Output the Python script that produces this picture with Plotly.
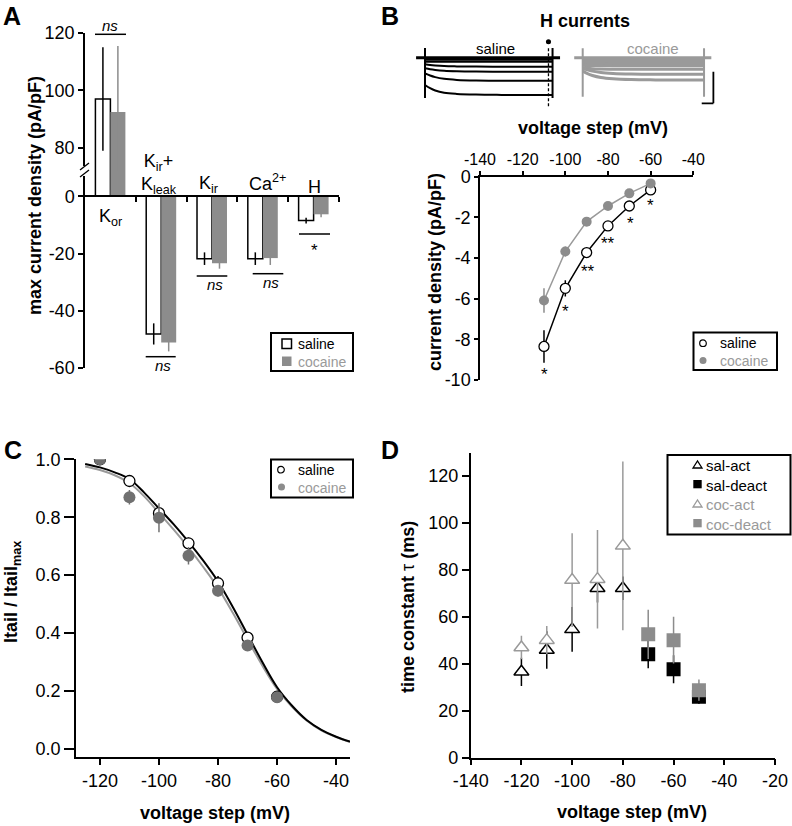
import plotly.graph_objects as go

W, H = 792, 826
FONT = "Liberation Sans, Arial, Helvetica, sans-serif"
BLACK = "#000000"
GREY = "#8c8c8c"
GREY_LINE = "#9a9a9a"
GREY_TXT = "#9a9a9a"
GREY_DARK = "#707070"

# ---------------- Panel A : max current density ----------------
a_categories = ["Kor", "Kir+Kleak", "Kir", "Ca2+", "H"]
a_x = [0, 1, 2, 3, 4]
a_saline = [97.0, -48.1, -21.8, -21.8, -8.5]
a_saline_err = [18.0, 3.7, 2.2, 2.2, 1.0]
a_cocaine = [92.5, -51.1, -23.4, -21.6, -6.3]
a_cocaine_err = [23.0, 3.1, 1.9, 2.4, 1.0]
a_sig = ["ns", "ns", "ns", "ns", "*"]
a_lower_ticks = [-60, -40, -20, 0]
a_upper_ticks = [80, 100, 120]

# ---------------- Panel B : H current sweeps + I-V ----------------
sweep_t = [0, 40, 80, 150, 250, 400, 600, 800, 1000]
hold_t = [-70, 1060]
hold_i = [0, 0]
saline_sweeps = [
    [-20, -20, -20, -20, -20, -20, -20, -20, -20],
    [-40, -40, -40, -40, -40, -40, -40, -40, -40],
    [-66, -73, -78, -84, -87, -89, -90, -90, -90],
    [-106, -116, -123, -131, -136, -139, -140, -140, -140],
    [-156, -178, -194, -211, -222, -228, -230, -231, -231],
    [-273, -305, -328, -350, -362, -369, -372, -373, -373],
]
cocaine_sweeps = [
    [-15, -15, -15, -15, -15, -15, -15, -15, -15],
    [-30, -30, -30, -30, -30, -30, -30, -30, -30],
    [-45, -45, -45, -45, -45, -45, -45, -45, -45],
    [-60, -60, -61, -61, -62, -62, -62, -62, -62],
    [-75, -77, -78, -79, -80, -80, -80, -80, -80],
    [-100, -106, -110, -113, -115, -116, -116, -116, -116],
    [-106, -122, -134, -148, -157, -163, -166, -166, -166],
    [-133, -160, -178, -198, -211, -219, -222, -223, -223],
]
saline_transient = [97, -403]
cocaine_transient = [94, -390]

b_voltage = [-110, -100, -90, -80, -70, -60]
b_saline = [-8.35, -5.49, -3.73, -2.42, -1.44, -0.65]
b_saline_err = [0.8, 0.4, 0.15, 0.1, 0.1, 0.1]
b_cocaine = [-6.09, -3.68, -2.21, -1.44, -0.82, -0.33]
b_cocaine_err = [0.6, 0.25, 0.1, 0.1, 0.1, 0.08]
b_stars = ["*", "*", "**", "**", "*", "*"]
b_x_ticks = [-140, -120, -100, -80, -60, -40]
b_y_ticks = [0, -2, -4, -6, -8, -10]

# ---------------- Panel C : activation ----------------
c_voltage = [-120, -110, -100, -90, -80, -70, -60]
c_saline = [1.0, 0.925, 0.814, 0.71, 0.572, 0.384, 0.18]
c_saline_err = [0.0, 0.01, 0.02, 0.02, 0.025, 0.015, 0.01]
c_cocaine = [1.0, 0.869, 0.798, 0.667, 0.546, 0.357, 0.178]
c_cocaine_err = [0.0, 0.025, 0.05, 0.03, 0.02, 0.015, 0.015]
c_fit_v = [-125, -120, -115, -110, -105, -100, -95, -90, -85, -80,
           -75, -70, -65, -60, -55, -50, -45, -40, -35.3]
c_fit_saline = [0.984, 0.972, 0.955, 0.932, 0.885, 0.83, 0.775, 0.715, 0.65, 0.578,
                0.49, 0.395, 0.30, 0.213, 0.15, 0.10, 0.066, 0.042, 0.025]
c_fit_cocaine = [0.975, 0.963, 0.945, 0.918, 0.872, 0.815, 0.757, 0.695, 0.628, 0.556,
                 0.47, 0.378, 0.288, 0.207, 0.146, 0.098, 0.064, 0.041, 0.024]
c_x_ticks = [-120, -100, -80, -60, -40]
c_y_ticks = [0.0, 0.2, 0.4, 0.6, 0.8, 1.0]

# ---------------- Panel D : time constants ----------------
d_act_v = [-120, -110, -100, -90, -80]
d_sal_act = [36.6, 45.9, 54.7, 72.2, 72.2]
d_sal_act_err = [6, 8, 9.5, 6, 5]
d_coc_act = [47.0, 50.1, 75.7, 76.1, 90.3]
d_coc_act_err = [5, 6, 20, 21, 36]
d_deact_v = [-70, -60, -50]
d_sal_deact = [44.1, 37.7, 26.0]
d_sal_deact_err = [6, 6, 3]
d_coc_deact = [52.6, 50.1, 28.8]
d_coc_deact_err = [10.5, 10, 4.5]
d_x_ticks = [-140, -120, -100, -80, -60, -40, -20]
d_y_ticks = [0, 20, 40, 60, 80, 100, 120]


def fx(px):
    return px / W


def fy(py):
    return 1 - py / H


def lab(v):
    return "%g" % v


fig = go.Figure()

# ---- Panel A traces (lower and upper part of the broken axis) ----
for yax in ("y", "y2"):
    fig.add_trace(go.Bar(
        x=a_x, y=a_saline, xaxis="x", yaxis=yax, name="saline",
        marker=dict(color="white", line=dict(color=BLACK, width=1.5)),
        error_y=dict(type="data", array=a_saline_err, color=BLACK, thickness=1.5, width=0),
        showlegend=False))
    fig.add_trace(go.Bar(
        x=a_x, y=a_cocaine, xaxis="x", yaxis=yax, name="cocaine",
        marker=dict(color=GREY, line=dict(width=0)),
        error_y=dict(type="data", array=a_cocaine_err, color=GREY, thickness=1.5, width=0),
        showlegend=False))

# ---- Panel B sweeps ----
fig.add_trace(go.Scatter(x=hold_t, y=hold_i, xaxis="x3", yaxis="y4", mode="lines",
                         line=dict(color=BLACK, width=3), showlegend=False, hoverinfo="skip"))
for sw in saline_sweeps:
    fig.add_trace(go.Scatter(x=sweep_t, y=sw, xaxis="x3", yaxis="y4", mode="lines",
                             line=dict(color=BLACK, width=2, shape="spline"),
                             showlegend=False, hoverinfo="skip"))
for t in (sweep_t[0], sweep_t[-1]):
    fig.add_trace(go.Scatter(x=[t, t], y=saline_transient, xaxis="x3", yaxis="y4", mode="lines",
                             line=dict(color=BLACK, width=2), showlegend=False, hoverinfo="skip"))
fig.add_trace(go.Scatter(x=hold_t, y=hold_i, xaxis="x4", yaxis="y4", mode="lines",
                         line=dict(color=GREY_LINE, width=3), showlegend=False, hoverinfo="skip"))
for sw in cocaine_sweeps:
    fig.add_trace(go.Scatter(x=sweep_t, y=sw, xaxis="x4", yaxis="y4", mode="lines",
                             line=dict(color=GREY_LINE, width=3, shape="spline"),
                             showlegend=False, hoverinfo="skip"))
for t in (sweep_t[0], sweep_t[-1]):
    fig.add_trace(go.Scatter(x=[t, t], y=cocaine_transient, xaxis="x4", yaxis="y4", mode="lines",
                             line=dict(color=GREY_LINE, width=2), showlegend=False, hoverinfo="skip"))

# ---- Panel B I-V ----
fig.add_trace(go.Scatter(x=b_voltage, y=b_saline, xaxis="x2", yaxis="y3", mode="lines",
                         line=dict(color=BLACK, width=1.5), showlegend=False))
fig.add_trace(go.Scatter(x=b_voltage, y=b_cocaine, xaxis="x2", yaxis="y3", mode="lines",
                         line=dict(color=GREY_LINE, width=1.5), showlegend=False))
fig.add_trace(go.Scatter(x=b_voltage, y=b_saline, xaxis="x2", yaxis="y3", mode="markers",
                         name="saline", showlegend=False,
                         marker=dict(symbol="circle", size=10, color="white",
                                     line=dict(color=BLACK, width=1.3)),
                         error_y=dict(type="data", array=b_saline_err, color=BLACK,
                                      thickness=1.5, width=0)))
fig.add_trace(go.Scatter(x=b_voltage, y=b_cocaine, xaxis="x2", yaxis="y3", mode="markers",
                         name="cocaine", showlegend=False,
                         marker=dict(symbol="circle", size=10, color=GREY, line=dict(width=0)),
                         error_y=dict(type="data", array=b_cocaine_err, color=GREY,
                                      thickness=1.5, width=0)))

# ---- Panel C ----
fig.add_trace(go.Scatter(x=c_fit_v, y=c_fit_cocaine, xaxis="x5", yaxis="y5", mode="lines",
                         line=dict(color=GREY_LINE, width=2, shape="spline"), showlegend=False))
fig.add_trace(go.Scatter(x=c_fit_v, y=c_fit_saline, xaxis="x5", yaxis="y5", mode="lines",
                         line=dict(color=BLACK, width=2, shape="spline"), showlegend=False))
fig.add_trace(go.Scatter(x=c_voltage, y=c_saline, xaxis="x5", yaxis="y5", mode="markers",
                         name="saline", showlegend=False,
                         marker=dict(symbol="circle", size=11, color="white",
                                     line=dict(color=BLACK, width=1.3)),
                         error_y=dict(type="data", array=c_saline_err, color=BLACK,
                                      thickness=1.5, width=0)))
fig.add_trace(go.Scatter(x=c_voltage, y=c_cocaine, xaxis="x5", yaxis="y5", mode="markers",
                         name="cocaine", showlegend=False,
                         marker=dict(symbol="circle", size=12, color=GREY_DARK, line=dict(width=0)),
                         error_y=dict(type="data", array=c_cocaine_err, color=GREY_DARK,
                                      thickness=1.5, width=0)))

# ---- Panel D ----
fig.add_trace(go.Scatter(x=d_act_v, y=d_sal_act, xaxis="x6", yaxis="y6", mode="markers",
                         name="sal-act", showlegend=False,
                         marker=dict(symbol="triangle-up", size=13, color="white",
                                     line=dict(color=BLACK, width=1.5)),
                         error_y=dict(type="data", array=d_sal_act_err, color=BLACK,
                                      thickness=1.5, width=0)))
fig.add_trace(go.Scatter(x=d_deact_v, y=d_sal_deact, xaxis="x6", yaxis="y6", mode="markers",
                         name="sal-deact", showlegend=False,
                         marker=dict(symbol="square", size=14, color=BLACK, line=dict(width=0)),
                         error_y=dict(type="data", array=d_sal_deact_err, color=BLACK,
                                      thickness=1.5, width=0)))
fig.add_trace(go.Scatter(x=d_act_v, y=d_coc_act, xaxis="x6", yaxis="y6", mode="markers",
                         name="coc-act", showlegend=False,
                         marker=dict(symbol="triangle-up", size=13, color="white",
                                     line=dict(color=GREY_LINE, width=1.5)),
                         error_y=dict(type="data", array=d_coc_act_err, color=GREY_LINE,
                                      thickness=1.5, width=0)))
fig.add_trace(go.Scatter(x=d_deact_v, y=d_coc_deact, xaxis="x6", yaxis="y6", mode="markers",
                         name="coc-deact", showlegend=False,
                         marker=dict(symbol="square", size=14, color=GREY, line=dict(width=0)),
                         error_y=dict(type="data", array=d_coc_deact_err, color=GREY,
                                      thickness=1.5, width=0)))

# ---------------- axes ----------------
axis_common = dict(showline=True, linecolor=BLACK, linewidth=1.5, ticks="outside",
                   tickcolor=BLACK, tickwidth=1.5, showgrid=False, zeroline=False,
                   tickfont=dict(family=FONT, size=18, color=BLACK), fixedrange=True)

layout_axes = dict(
    # Panel A
    xaxis=dict(axis_common, domain=[fx(85), fx(339)], range=[-0.5, 4.5], anchor="free",
               position=fy(196.3), tickvals=[0.5, 1.5, 2.5, 3.5, 4.5], ticklen=5,
               showticklabels=False),
    yaxis=dict(axis_common, domain=[fy(368), fy(171)], range=[-60, 8.83], anchor="x",
               tickvals=a_lower_ticks, ticktext=[lab(v) for v in a_lower_ticks], ticklen=5),
    yaxis2=dict(axis_common, domain=[fy(171), fy(33)], range=[71.97, 120], anchor="x",
                tickvals=a_upper_ticks, ticktext=[lab(v) for v in a_upper_ticks], ticklen=5),
    # Panel B I-V
    xaxis2=dict(axis_common, domain=[fx(480), fx(693.3)], range=[-140, -40], anchor="y3",
                side="top", tickvals=b_x_ticks, ticktext=[lab(v) for v in b_x_ticks], ticklen=4,
                tickfont=dict(family=FONT, size=16, color=BLACK)),
    yaxis3=dict(axis_common, domain=[fy(380), fy(176.7)], range=[-10, 0], anchor="x2",
                tickvals=b_y_ticks, ticktext=[lab(v) for v in b_y_ticks], ticklen=4),
    # Panel B sweeps (no visible axes)
    xaxis3=dict(domain=[fx(414.8), fx(560.2)], range=[-80, 1060], anchor="y4", visible=False,
                fixedrange=True),
    xaxis4=dict(domain=[fx(573), fx(718.6)], range=[-80, 1120], anchor="y4", visible=False,
                fixedrange=True),
    yaxis4=dict(domain=[fy(115), fy(35)], range=[-573, 227], anchor="x3", visible=False,
                fixedrange=True),
    # Panel C
    xaxis5=dict(axis_common, domain=[fx(76), fx(350)], range=[-128.1, -35.3], anchor="y5",
                tickvals=c_x_ticks, ticktext=[lab(v) for v in c_x_ticks], ticklen=6),
    yaxis5=dict(axis_common, domain=[fy(757.3), fy(459.3)], range=[-0.029, 1.0], anchor="x5",
                tickvals=c_y_ticks, ticktext=["%.1f" % v for v in c_y_ticks], ticklen=10),
    # Panel D
    xaxis6=dict(axis_common, domain=[fx(470.7), fx(775)], range=[-140, -20], anchor="y6",
                tickvals=d_x_ticks, ticktext=[lab(v) for v in d_x_ticks], ticklen=6),
    yaxis6=dict(axis_common, domain=[fy(757.7), fy(452.7)], range=[0, 130], anchor="x6",
                tickvals=d_y_ticks, ticktext=[lab(v) for v in d_y_ticks], ticklen=7),
)

# ---------------- annotations ----------------
annotations = []


def ann(text, px, py, size=18, bold=False, italic=False, color=BLACK, xanchor="center",
        yanchor="middle", angle=0, align="center"):
    if bold:
        text = "<b>%s</b>" % text
    if italic:
        text = "<i>%s</i>" % text
    annotations.append(dict(text=text, x=fx(px), y=fy(py), xref="paper", yref="paper",
                            showarrow=False, xanchor=xanchor, yanchor=yanchor, textangle=angle,
                            align=align, font=dict(family=FONT, size=size, color=color)))


# panel letters
ann("A", 1, 16, size=25, bold=True, xanchor="left")
ann("B", 379, 16, size=25, bold=True, xanchor="left")
ann("C", 2, 450, size=25, bold=True, xanchor="left")
ann("D", 379, 450, size=25, bold=True, xanchor="left")

# Panel A texts
ann("max current density (pA/pF)", 35, 196, bold=True, angle=-90)
a_label_text = ["K<sub>or</sub>", "K<sub>ir</sub>+<br>K<sub>leak</sub>", "K<sub>ir</sub>",
                "Ca<sup>2+</sup>", "H"]
a_label_pos = [(110, 218), (159, 174), (208, 184), (267, 183), (314, 187)]
for t, (px, py) in zip(a_label_text, a_label_pos):
    ann(t, px, py)
a_sig_pos = [(110, 25.5), (163, 365), (215, 285), (271, 282.5), (314, 250)]
for s, (px, py) in zip(a_sig, a_sig_pos):
    if s == "ns":
        ann(s, px, py, size=15, italic=True)
    else:
        ann(s, px, py, size=17)

# Panel B texts
ann("H currents", 585, 21, bold=True)
ann("saline", 495, 49, size=15)
ann("cocaine", 653, 49, size=15, color=GREY_TXT)
ann("voltage step (mV)", 593, 128, bold=True)
ann("current density (pA/pF)", 435, 272, bold=True, angle=-90)
b_star_pos = [(544, 374), (565.7, 311), (587.7, 271), (608, 243), (630, 223), (650.7, 206)]
for s, (px, py) in zip(b_stars, b_star_pos):
    ann(s, px, py, size=17)

# Panel C texts
ann("Itail / Itail<sub>max</sub>", 12, 592, bold=True, angle=-90)
ann("voltage step (mV)", 215, 812.7, bold=True)

# Panel D texts
ann("<b>time constant</b> τ <b>(ms)</b>", 408, 607, angle=-90)
ann("voltage step (mV)", 631.7, 811.7, bold=True)

# ---------------- shapes ----------------
shapes = []


def pline(x0, y0, x1, y1, width=1.5, color=BLACK, dash=None):
    d = dict(type="line", xref="paper", yref="paper", x0=fx(x0), y0=fy(y0), x1=fx(x1),
             y1=fy(y1), line=dict(color=color, width=width))
    if dash:
        d["line"]["dash"] = dash
    shapes.append(d)


def prect(x0, y0, x1, y1, fill="white", line_color=BLACK, line_width=0):
    shapes.append(dict(type="rect", xref="paper", yref="paper", x0=fx(x0), x1=fx(x1),
                       y0=fy(y1), y1=fy(y0), fillcolor=fill, layer="above",
                       line=dict(color=line_color, width=line_width)))


def pcircle(cx, cy, r, fill, line_color=BLACK, line_width=0):
    shapes.append(dict(type="circle", xref="paper", yref="paper", x0=fx(cx - r), x1=fx(cx + r),
                       y0=fy(cy + r), y1=fy(cy - r), fillcolor=fill, layer="above",
                       line=dict(color=line_color, width=line_width)))


def ptri(x0, x1, ytop, ybot, color):
    xm = (x0 + x1) / 2
    path = "M %f,%f L %f,%f L %f,%f Z" % (fx(x0), fy(ybot), fx(xm), fy(ytop), fx(x1), fy(ybot))
    shapes.append(dict(type="path", xref="paper", yref="paper", path=path, layer="above",
                       fillcolor="white", line=dict(color=color, width=1.3)))


# significance bars in A
for (x0, x1, py) in [(95, 126, 34.3), (145.7, 175.7, 356.7), (196.7, 227.3, 276),
                     (252.7, 283.3, 273.7), (299, 330, 234)]:
    pline(x0, py, x1, py)
# broken axis marks in A
prect(82, 166, 88, 176)
pline(80, 170, 89, 163, width=1.3)
pline(80, 177, 89, 170, width=1.3)

# B sweeps: dashed analysis line, dot and scale bar
shapes.append(dict(type="line", xref="x3", yref="y4", x0=968, x1=968, y0=94, y1=-490,
                   line=dict(color=BLACK, width=1.3, dash="3px,2px")))
shapes.append(dict(type="circle", xref="x3", yref="y4", x0=948, x1=988, y0=185, y1=135,
                   fillcolor=BLACK, line=dict(width=0)))
shapes.append(dict(type="line", xref="x4", yref="y4", x0=981, x1=1077, y0=-456, y1=-456,
                   line=dict(color=BLACK, width=1.8)))
shapes.append(dict(type="line", xref="x4", yref="y4", x0=1077, x1=1077, y0=-456, y1=-140,
                   line=dict(color=BLACK, width=1.8)))

# ---------------- legends (boxes, keys and labels) ----------------
GREY_SPAN = '<span style="color:%s">%%s</span>' % GREY_TXT
# A
prect(271, 333, 353, 371, fill="white", line_width=2)
prect(282, 339, 291.5, 348.5, fill="white", line_width=1.5)
prect(282, 356.5, 291.5, 366, fill=GREY)
ann("saline<br>" + GREY_SPAN % "cocaine", 296, 352.5, size=14, xanchor="left", align="left")
# B
prect(693.5, 332.5, 777, 370, fill="white", line_width=2)
pcircle(703, 343.2, 3.3, "white", line_width=1.2)
pcircle(703, 360.5, 3.5, GREY)
ann("saline<br>" + GREY_SPAN % "cocaine", 718, 352.2, size=14, xanchor="left", align="left")
# C
prect(271, 459.5, 353, 497.5, fill="white", line_width=2)
pcircle(281, 469.7, 3.3, "white", line_width=1.2)
pcircle(281.5, 487, 3.5, GREY)
ann("saline<br>" + GREY_SPAN % "cocaine", 296, 478.5, size=14, xanchor="left", align="left")
# D
prect(667.5, 455, 790.5, 534.5, fill="white", line_width=2)
ptri(693, 702, 461, 468, BLACK)
prect(693.3, 480, 701.7, 488.3, fill=BLACK)
ptri(693, 702, 500, 507, GREY_LINE)
prect(693.3, 519, 701.7, 527.3, fill=GREY)
ann("sal-act<br>sal-deact<br>" + GREY_SPAN % "coc-act" + "<br>" + GREY_SPAN % "coc-deact",
    704, 494.7, size=15, xanchor="left", align="left")

fig.update_layout(
    width=W, height=H,
    margin=dict(l=0, r=0, t=0, b=0, autoexpand=False),
    paper_bgcolor="white", plot_bgcolor="rgba(0,0,0,0)",
    font=dict(family=FONT, size=18, color=BLACK),
    barmode="group", bargap=0.41, bargroupgap=0,
    showlegend=False,
    annotations=annotations,
    shapes=shapes,
    **layout_axes,
)

fig.write_html("out.html",
               config={"displayModeBar": False, "staticPlot": False},
               post_script="document.body.style.margin='0px';"
                           "document.body.style.overflow='hidden';")
